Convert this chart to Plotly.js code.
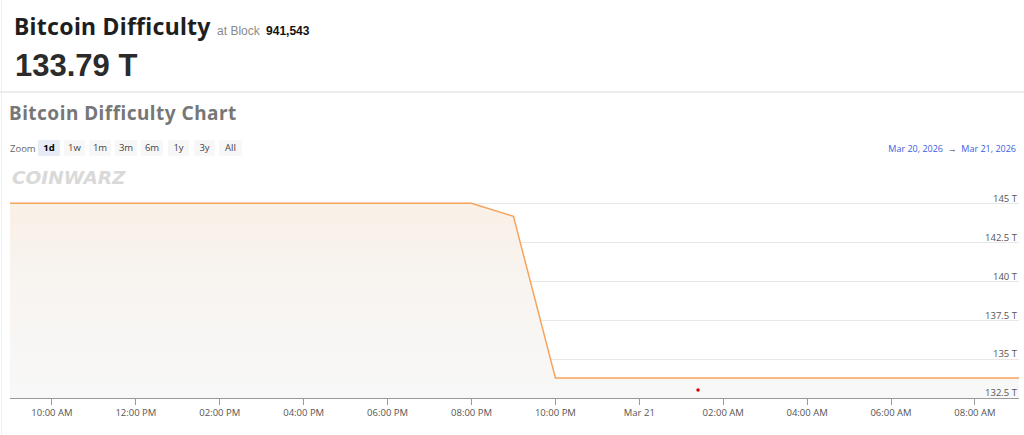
<!DOCTYPE html>
<html><head><meta charset="utf-8">
<script src="https://cdn.plot.ly/plotly-3.0.1.min.js"></script>
<style>
html,body{margin:0;padding:0;width:1024px;height:435px;overflow:hidden;background:#fff;}
#wrap{position:relative;width:1024px;height:435px;}
.abs{position:absolute;white-space:nowrap;}
#h1{left:14px;top:10px;font-family:"Noto Sans",sans-serif;font-weight:700;font-size:23px;color:#1e1e1e;letter-spacing:0.3px;}
#h1 .sub{font-family:"Liberation Sans",Arial,sans-serif;font-weight:400;font-size:12px;color:#8a8a8a;letter-spacing:0;}
#h1 .blk{font-family:"Liberation Sans",Arial,sans-serif;font-weight:700;font-size:12px;color:#111;letter-spacing:0;}
#val{left:15px;top:48px;font-family:"Liberation Sans",Arial,sans-serif;font-weight:700;font-size:31px;color:#2b2b2b;}
#sep{left:0;top:91px;width:1024px;height:2px;background:#ececec;}
#lb{left:1px;top:0;width:1px;height:435px;background:#eee;}
#h2{left:9px;top:100px;font-family:"Noto Sans",sans-serif;font-weight:700;font-size:19px;color:#777;letter-spacing:0.5px;}
#zoomlbl{left:10px;top:142px;font-family:"Open Sans",sans-serif;font-size:9.5px;color:#666;}
.btn{position:absolute;top:140px;height:16px;line-height:16px;text-align:center;font-family:"Open Sans",sans-serif;font-size:9.5px;color:#444;background:#f7f7f7;border-radius:2px;}
.btn.sel{background:#e6ebf5;font-weight:700;color:#000;}
#dr{right:8px;top:142px;font-family:"Open Sans",sans-serif;font-size:9px;color:#3d5ce0;}
#dr .ar{color:#444;}
#chart{position:absolute;left:0;top:0;width:1024px;height:435px;}
</style></head>
<body><div id="wrap">
<div id="chart"></div>
<div class="abs" id="lb"></div>
<div class="abs" id="h1">Bitcoin Difficulty <span class="sub">at Block</span> <span class="blk">941,543</span></div>
<div class="abs" id="val">133.79 T</div>
<div class="abs" id="sep"></div>
<div class="abs" id="h2">Bitcoin Difficulty Chart</div>
<div class="abs" id="zoomlbl">Zoom</div>
<div id="btns"></div>
<div class="abs" id="dr">Mar 20, 2026 &nbsp;<span class="ar">→</span>&nbsp; Mar 21, 2026</div>
</div>
<script>
// Data
const times = ["2026-03-20 09:00","2026-03-20 20:00","2026-03-20 21:00","2026-03-20 22:00","2026-03-21 09:03"];
const difficulty = [145.04, 145.04, 144.2, 133.79, 133.79];
const markerTime = ["2026-03-21 01:24"];
const markerValue = [133.02];
const xTickVals = ["2026-03-20 10:00","2026-03-20 12:00","2026-03-20 14:00","2026-03-20 16:00","2026-03-20 18:00","2026-03-20 20:00","2026-03-20 22:00","2026-03-21 00:00","2026-03-21 02:00","2026-03-21 04:00","2026-03-21 06:00","2026-03-21 08:00"];
const xTickText = ["10:00 AM","12:00 PM","02:00 PM","04:00 PM","06:00 PM","08:00 PM","10:00 PM","Mar 21","02:00 AM","04:00 AM","06:00 AM","08:00 AM"];
const yTickVals = [132.5,135,137.5,140,142.5,145,147.5];
const yTickText = ["132.5 T","135 T","137.5 T","140 T","142.5 T","145 T",""];
const zoomButtons = ["1d","1w","1m","3m","6m","1y","3y","All"];

// buttons
const bx = [38,64,89,115,141,168,194,219];
const bw = [22,21,22,22,22,21,21,23];
const bc = document.getElementById('btns');
zoomButtons.forEach((b,i)=>{
  const d=document.createElement('div');
  d.className='btn'+(i===0?' sel':'');
  d.style.left=bx[i]+'px'; d.style.width=bw[i]+'px';
  d.textContent=b; bc.appendChild(d);
});

const traces = [
 {x:times, y:difficulty, type:'scatter', mode:'lines', fill:'tozeroy',
  line:{color:'#f7a35c', width:1.5},
  fillgradient:{type:'vertical', start:132.5, stop:147.5,
    colorscale:[[0,'rgb(248,248,248)'],[0.5,'rgb(248,244,240)'],[1,'rgb(250,238,226)']]},
  hoverinfo:'skip'},
 {x:markerTime, y:markerValue, type:'scatter', mode:'markers',
  marker:{color:'#e00000', size:3.5}, hoverinfo:'skip'}
];
const layout = {
  width:1024, height:435,
  margin:{l:10, r:5, t:165, b:37},
  paper_bgcolor:'rgba(0,0,0,0)', plot_bgcolor:'#fff',
  showlegend:false,
  xaxis:{type:'date', range:["2026-03-20 09:00","2026-03-21 09:03"],
    tickmode:'array', tickvals:xTickVals, ticktext:xTickText,
    showgrid:false, zeroline:false, showline:true, linecolor:'#9a9a9a', linewidth:1,
    ticks:'outside', ticklen:6, tickcolor:'#9a9a9a', tickwidth:1,
    tickfont:{family:'"Open Sans", sans-serif', size:9.5, color:'#555'}, automargin:false},
  yaxis:{range:[132.5,147.5], side:'right', tickmode:'array', tickvals:yTickVals, ticktext:yTickText,
    ticklabelposition:'inside', ticklabeloverflow:'allow', ticklabelshift:-5, ticklabelstandoff:-1, showgrid:true, gridcolor:'#e8e8e8', gridwidth:1,
    zeroline:false, showline:false, ticks:'',
    tickfont:{family:'"Open Sans", sans-serif', size:9.5, color:'#555'}, automargin:false},
  annotations:[{xref:'paper', yref:'paper', x:0, y:1.0, xanchor:'left', yanchor:'top',
    text:'<b><i>COINWARZ</i></b>', showarrow:false,
    font:{family:'"DejaVu Sans", sans-serif', size:18.5, color:'#d9d9d9'}}]
};
Plotly.newPlot('chart', traces, layout, {staticPlot:true, displayModeBar:false});
</script>
</body></html>
